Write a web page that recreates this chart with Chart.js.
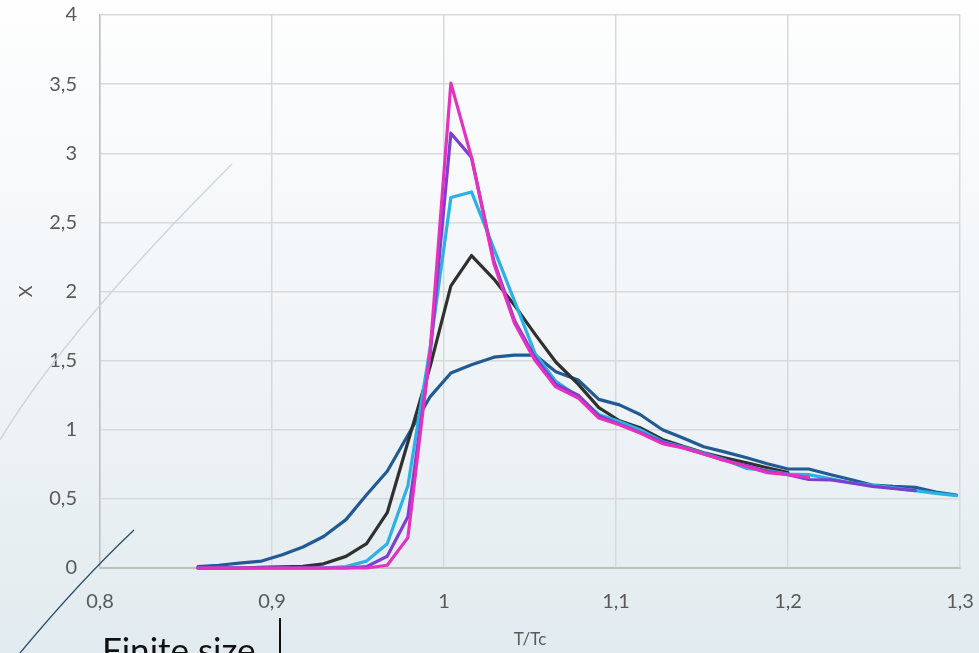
<!DOCTYPE html>
<html>
<head>
<meta charset="utf-8">
<script src="https://cdn.jsdelivr.net/npm/chart.js@4.4.0/dist/chart.umd.min.js"></script>
<style>
  html, body { margin: 0; padding: 0; }
  #wrap { width: 979px; height: 653px; position: relative; }
</style>
</head>
<body>
<div id="wrap"><canvas id="chart" width="979" height="653"></canvas></div>
<script>
// T/Tc sample points (shared by all curves)
const tRatio = [0.857, 0.869, 0.881, 0.894, 0.906, 0.918, 0.930, 0.943, 0.955, 0.967,
  0.979, 0.992, 1.004, 1.016, 1.029, 1.041, 1.053, 1.065, 1.078, 1.090,
  1.102, 1.114, 1.127, 1.139, 1.151, 1.163, 1.176, 1.188, 1.200, 1.212,
  1.225, 1.237, 1.249, 1.261, 1.274, 1.286, 1.298];

// susceptibility curves
const chiBlue = [0.01, 0.02, 0.035, 0.05, 0.096, 0.152, 0.228, 0.35, 0.53, 0.70,
  0.96, 1.24, 1.41, 1.47, 1.525, 1.54, 1.54, 1.42, 1.36, 1.22,
  1.18, 1.11, 1.0, 0.94, 0.877, 0.84, 0.797, 0.754, 0.716, 0.716,
  0.675, 0.638, 0.60, 0.59, 0.583, 0.55, 0.528];
const chiBlack = [0, 0, 0, 0.004, 0.008, 0.012, 0.03, 0.084, 0.176, 0.40,
  0.91, 1.46, 2.04, 2.26, 2.09, 1.90, 1.69, 1.49, 1.33, 1.16,
  1.065, 1.015, 0.93, 0.88, 0.833, 0.797, 0.761, 0.725, 0.69];
const chiCyan = [0, 0, 0, 0, 0, 0, 0, 0.01, 0.05, 0.176,
  0.595, 1.6, 2.68, 2.72, 2.31, 1.93, 1.55, 1.35, 1.24, 1.11,
  1.06, 1.0, 0.915, 0.875, 0.83, 0.785, 0.72, 0.705, 0.68, 0.675,
  0.645, 0.615, 0.60, 0.58, 0.56, 0.54, 0.523];
const chiPurple = [0, 0, 0, 0, 0, 0, 0, 0, 0.01, 0.085,
  0.37, 1.55, 3.145, 2.97, 2.22, 1.79, 1.52, 1.33, 1.25, 1.10,
  1.04, 0.98, 0.91, 0.87, 0.825, 0.78, 0.74, 0.70, 0.675, 0.64,
  0.638, 0.615, 0.59, 0.575, 0.56];
const chiPink = [0, 0, 0, 0, 0, 0, 0, 0, 0, 0.02,
  0.22, 1.58, 3.507, 2.97, 2.2, 1.77, 1.5, 1.31, 1.23, 1.085,
  1.036, 0.976, 0.9, 0.868, 0.824, 0.778, 0.735, 0.69, 0.675, 0.655];

const fmt = v => String(Math.round(v * 10) / 10).replace('.', ',');
const pts = vals => vals.map((v, i) => ({ x: tRatio[i], y: v }));

function line(vals, color) {
    return {
        data: pts(vals),
        borderColor: color,
        borderWidth: 3.2,
        pointRadius: 0,
        tension: 0,
        fill: false,
        clip: 6,
        borderJoinStyle: 'round',
        borderCapStyle: 'round'
    };
}

// slide background + decorations
const slideDeco = {
    id: 'slideDeco',
    beforeDraw(chart) {
        const c = chart.ctx;
        const g = c.createLinearGradient(0, 0, 0, chart.height);
        g.addColorStop(0, '#fefefe');
        g.addColorStop(0.5, '#f1f5f8');
        g.addColorStop(1, '#e2ebef');
        c.save();
        c.fillStyle = g;
        c.fillRect(0, 0, chart.width, chart.height);
        c.restore();
    },
    afterDraw(chart) {
        const c = chart.ctx;
        c.save();
        c.lineWidth = 1.5;
        c.strokeStyle = '#cdd6dc';
        c.beginPath();
        c.moveTo(0, 440);
        c.quadraticCurveTo(66, 330, 232, 164);
        c.stroke();
        c.strokeStyle = '#2b4d68';
        c.lineWidth = 1.3;
        c.beginPath();
        c.moveTo(20, 653);
        c.quadraticCurveTo(79, 582, 134, 530);
        c.stroke();
        c.fillStyle = '#111';
        c.font = '35px Lato';
        c.textBaseline = 'alphabetic';
        c.fillText('Finite size', 102, 663);
        c.fillRect(279, 618, 2, 40);
        c.restore();
    }
};

new Chart(document.getElementById('chart'), {
    type: 'line',
    data: {
        datasets: [
            line(chiPink, '#e532be'),
            line(chiPurple, '#7c3fce'),
            line(chiCyan, '#2cb1e6'),
            line(chiBlack, '#303030'),
            line(chiBlue, '#225a93')
        ]
    },
    options: {
        responsive: false,
        animation: false,
        layout: { padding: { left: 0, right: 19, top: 15, bottom: 0 } },
        plugins: { legend: { display: false }, tooltip: { enabled: false } },
        scales: {
            x: {
                type: 'linear',
                min: 0.8,
                max: 1.3,
                afterFit: s => { s.height = 85; s.paddingLeft = 0; s.paddingRight = 0; },
                ticks: {
                    stepSize: 0.1,
                    callback: fmt,
                    color: '#595959',
                    font: { family: 'Lato', size: 20 },
                    padding: 22,
                    maxRotation: 0
                },
                grid: { color: '#d9d9d9', lineWidth: 1.5, drawTicks: false },
                border: { color: '#bfbfbf', width: 2 },
                title: {
                    display: true,
                    text: 'T/Tc',
                    color: '#595959',
                    font: { family: 'Lato', size: 17 },
                    padding: { top: 0, bottom: 3 }
                }
            },
            y: {
                min: 0,
                max: 4,
                afterFit: s => { s.width = 100; s.paddingTop = 0; s.paddingBottom = 0; },
                ticks: {
                    stepSize: 0.5,
                    callback: fmt,
                    color: '#595959',
                    font: { family: 'Lato', size: 20 },
                    padding: 23
                },
                grid: { color: '#d9d9d9', lineWidth: 1.5, drawTicks: false },
                border: { color: '#bfbfbf', width: 1.5 },
                title: {
                    display: true,
                    text: 'X',
                    color: '#595959',
                    font: { family: 'Lato', size: 18 },
                    padding: { top: 15, bottom: 0 }
                }
            }
        }
    },
    plugins: [slideDeco]
});
</script>
</body>
</html>
